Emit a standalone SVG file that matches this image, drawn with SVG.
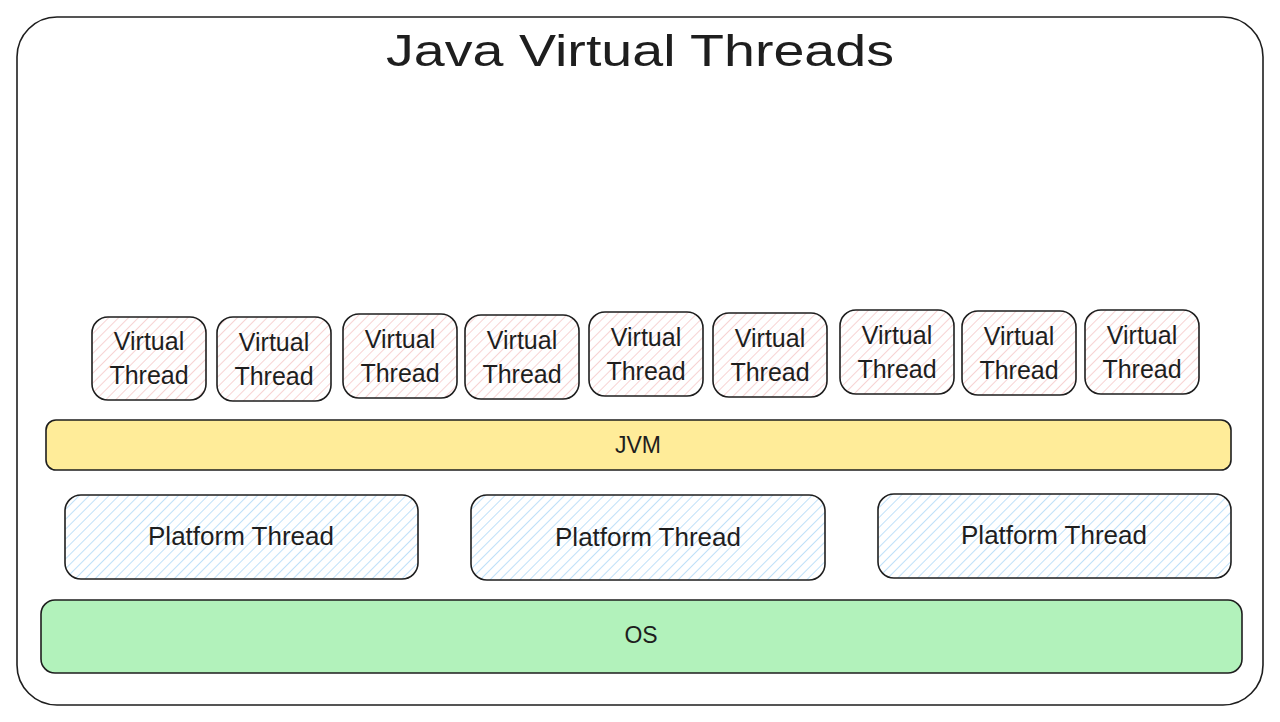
<svg xmlns="http://www.w3.org/2000/svg" width="1280" height="722" viewBox="0 0 1280 722">
<style>
text{font-family:"Liberation Sans","DejaVu Sans",sans-serif;fill:#1e1e1e;text-anchor:middle;dominant-baseline:central}
.box{stroke:#1e1e1e;stroke-width:1.6}
.vt{fill:url(#hatchPink)}
.pt{fill:url(#hatchBlue)}
.vtxt{font-size:25px}
.ptxt{font-size:26px}
.ltxt{font-size:23px}
</style>
<defs>
<pattern id="hatchPink" patternUnits="userSpaceOnUse" width="7" height="7" patternTransform="rotate(45)">
<rect width="7" height="7" fill="#ffffff"/>
<line x1="0" y1="0" x2="0" y2="7" stroke="#f4bcbc" stroke-width="1.3"/>
</pattern>
<pattern id="hatchBlue" patternUnits="userSpaceOnUse" width="7" height="7" patternTransform="rotate(45)">
<rect width="7" height="7" fill="#ffffff"/>
<line x1="0" y1="0" x2="0" y2="7" stroke="#9ccff5" stroke-width="1.3"/>
</pattern>
</defs>
<rect width="1280" height="722" fill="#ffffff"/>
<g id="frame">
<rect x="17" y="17" width="1246" height="688" rx="40" fill="none" class="box"/>
<text x="640" y="50" font-size="44" textLength="508" lengthAdjust="spacingAndGlyphs">Java Virtual Threads</text>
</g>
<g id="vt1"><rect class="box vt" x="92" y="317" width="114" height="83" rx="16"/><text class="vtxt" x="149" y="341">Virtual</text><text class="vtxt" x="149" y="375">Thread</text></g>
<g id="vt2"><rect class="box vt" x="217" y="317" width="114" height="84" rx="16"/><text class="vtxt" x="274" y="342">Virtual</text><text class="vtxt" x="274" y="376">Thread</text></g>
<g id="vt3"><rect class="box vt" x="343" y="314" width="114" height="84" rx="16"/><text class="vtxt" x="400" y="339">Virtual</text><text class="vtxt" x="400" y="373">Thread</text></g>
<g id="vt4"><rect class="box vt" x="465" y="315" width="114" height="84" rx="16"/><text class="vtxt" x="522" y="340">Virtual</text><text class="vtxt" x="522" y="374">Thread</text></g>
<g id="vt5"><rect class="box vt" x="589" y="312" width="114" height="84" rx="16"/><text class="vtxt" x="646" y="337">Virtual</text><text class="vtxt" x="646" y="371">Thread</text></g>
<g id="vt6"><rect class="box vt" x="713" y="313" width="114" height="84" rx="16"/><text class="vtxt" x="770" y="338">Virtual</text><text class="vtxt" x="770" y="372">Thread</text></g>
<g id="vt7"><rect class="box vt" x="840" y="310" width="114" height="84" rx="16"/><text class="vtxt" x="897" y="335">Virtual</text><text class="vtxt" x="897" y="369">Thread</text></g>
<g id="vt8"><rect class="box vt" x="962" y="311" width="114" height="84" rx="16"/><text class="vtxt" x="1019" y="336">Virtual</text><text class="vtxt" x="1019" y="370">Thread</text></g>
<g id="vt9"><rect class="box vt" x="1085" y="310" width="114" height="84" rx="16"/><text class="vtxt" x="1142" y="335">Virtual</text><text class="vtxt" x="1142" y="369">Thread</text></g>
<g id="jvm"><rect class="box" x="46" y="420" width="1185" height="50" rx="10" fill="#ffec99"/><text class="ltxt" x="638" y="445">JVM</text></g>
<g id="pt1"><rect class="box pt" x="65" y="495" width="353" height="84" rx="16"/><text class="ptxt" x="241" y="536">Platform Thread</text></g>
<g id="pt2"><rect class="box pt" x="471" y="495" width="354" height="85" rx="16"/><text class="ptxt" x="648" y="537">Platform Thread</text></g>
<g id="pt3"><rect class="box pt" x="878" y="494" width="353" height="84" rx="16"/><text class="ptxt" x="1054" y="535">Platform Thread</text></g>
<g id="os"><rect class="box" x="41" y="600" width="1201" height="73" rx="14" fill="#b2f2bb"/><text class="ltxt" x="641" y="635">OS</text></g>
<g id="connectors"></g>
</svg>
